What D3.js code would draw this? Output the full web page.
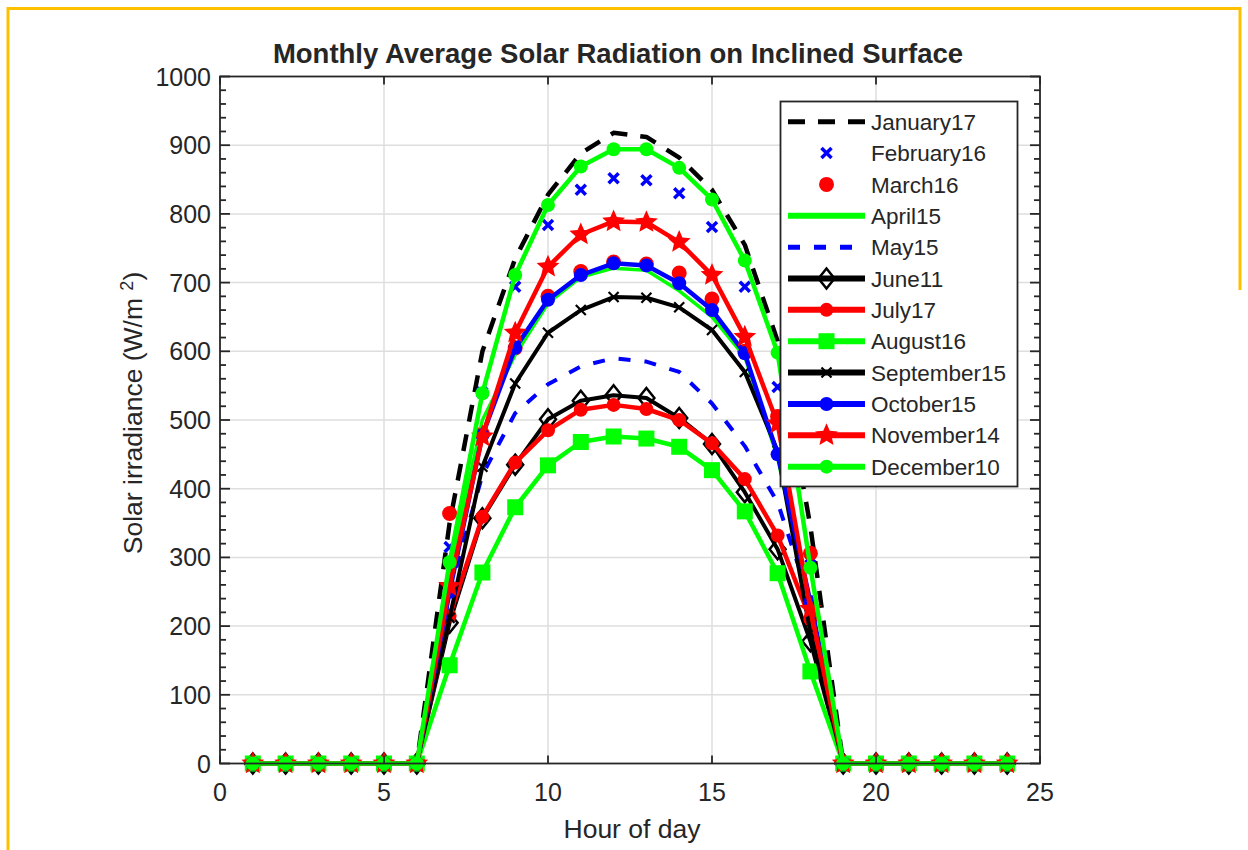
<!DOCTYPE html>
<html lang="en">
<head>
<meta charset="UTF-8">
<title>Monthly Average Solar Radiation on Inclined Surface</title>
<style>
    body, html {
        margin: 0;
        padding: 0;
        width: 100%;
        height: 100%;
        overflow: hidden;
        background: #fff;
        font-family: 'Liberation Sans', Arial, sans-serif;
    }
    text { fill: #262626; }
</style>
</head>
<body>
<div id="chart"></div>
<script src="https://cdn.jsdelivr.net/npm/d3@7/dist/d3.min.js"></script>
<script>
    // hours and monthly series (W/m^2)
    const hours = [1,2,3,4,5,6,7,8,9,10,11,12,13,14,15,16,17,18,19,20,21,22,23,24];
    const january17   = [0,0,0,0,0,0,350,600,735,828,888,918,912,882,835,755,615,345,0,0,0,0,0,0];
    const february16  = [0,0,0,0,0,0,315,540,694,784,835,852,849,830,781,694,548,300,0,0,0,0,0,0];
    const march16     = [0,0,0,0,0,0,364,480,605,680,716,730,727,714,676,600,505,306,0,0,0,0,0,0];
    const april15     = [0,0,0,0,0,0,282,500,595,670,708,721,718,688,650,592,445,225,0,0,0,0,0,0];
    const may15       = [0,0,0,0,0,0,250,420,510,552,578,590,585,570,524,462,380,235,0,0,0,0,0,0];
    const june11      = [0,0,0,0,0,0,205,357,435,501,528,536,532,503,465,395,312,178,0,0,0,0,0,0];
    const july17      = [0,0,0,0,0,0,215,359,438,485,515,522,516,500,466,414,332,210,0,0,0,0,0,0];
    const august16    = [0,0,0,0,0,0,143,278,373,434,468,476,473,461,427,367,277,134,0,0,0,0,0,0];
    const september15 = [0,0,0,0,0,0,212,432,553,627,660,679,678,664,631,570,455,190,0,0,0,0,0,0];
    const october15   = [0,0,0,0,0,0,250,478,605,675,711,728,725,699,660,597,450,235,0,0,0,0,0,0];
    const november14  = [0,0,0,0,0,0,258,476,627,723,770,789,788,759,711,621,495,225,0,0,0,0,0,0];
    const december10  = [0,0,0,0,0,0,293,539,711,813,869,894,894,867,821,732,598,285,0,0,0,0,0,0];

    const xTicks = [0,5,10,15,20,25];
    const yTicks = [0,100,200,300,400,500,600,700,800,900,1000];

    // line style per month
    const series = [
        {name: "January17",   values: january17,   color: "#000", width: 4.5, dash: "17,13", line: true,  marker: null},
        {name: "February16",  values: february16,  color: "#00f", width: 0,   dash: null,    line: false, marker: "x"},
        {name: "March16",     values: march16,     color: "#f00", width: 0,   dash: null,    line: false, marker: "dot"},
        {name: "April15",     values: april15,     color: "#0f0", width: 3.5, dash: null,    line: true,  marker: null},
        {name: "May15",       values: may15,       color: "#00f", width: 4,   dash: "12,14", line: true,  marker: null},
        {name: "June11",      values: june11,      color: "#000", width: 4,   dash: null,    line: true,  marker: "diamond"},
        {name: "July17",      values: july17,      color: "#f00", width: 4.5, dash: null,    line: true,  marker: "circle"},
        {name: "August16",    values: august16,    color: "#0f0", width: 4.5, dash: null,    line: true,  marker: "square"},
        {name: "September15", values: september15, color: "#000", width: 4,   dash: null,    line: true,  marker: "smallx"},
        {name: "October15",   values: october15,   color: "#00f", width: 4.5, dash: null,    line: true,  marker: "circle"},
        {name: "November14",  values: november14,  color: "#f00", width: 4.5, dash: null,    line: true,  marker: "star"},
        {name: "December10",  values: december10,  color: "#0f0", width: 4.5, dash: null,    line: true,  marker: "circle"}
    ];

    const W = 1248, H = 850;
    const svg = d3.select("#chart").append("svg")
        .attr("width", W)
        .attr("height", H);

    // yellow frame of the original page
    const frame = svg.append("g").attr("stroke", "#ffc000").attr("stroke-width", 3).attr("fill", "none");
    frame.append("path").attr("d", "M8,850V8.5H1240V290");

    const x = d3.scaleLinear().domain([0, 25]).range([220, 1040]);
    const y = d3.scaleLinear().domain([0, 1000]).range([763.5, 76.5]);

    // grid
    const grid = svg.append("g").attr("stroke", "#dedede").attr("stroke-width", 1.5);
    grid.selectAll(".gx").data(xTicks.slice(1, -1)).enter().append("line")
        .attr("x1", d => x(d)).attr("x2", d => x(d))
        .attr("y1", y(0)).attr("y2", y(1000));
    grid.selectAll(".gy").data(yTicks.slice(1, -1)).enter().append("line")
        .attr("x1", x(0)).attr("x2", x(25))
        .attr("y1", d => y(d)).attr("y2", d => y(d));

    // curves
    const lineGen = d3.line().x((d, i) => x(hours[i])).y(d => y(d));
    const plot = svg.append("g");

    function star(r1, r2, n) {
        const pts = [];
        for (let k = 0; k < n * 2; k++) {
            const r = k % 2 ? r2 : r1;
            const a = -Math.PI / 2 + k * Math.PI / n;
            pts.push([r * Math.cos(a), r * Math.sin(a)]);
        }
        return "M" + pts.map(p => p.join(",")).join("L") + "Z";
    }

    function drawMarker(g, type, color, cx, cy) {
        const t = `translate(${cx},${cy})`;
        if (type === "x") {
            g.append("path").attr("transform", t)
                .attr("d", "M-5,-5L5,5M-5,5L5,-5")
                .attr("stroke", color).attr("stroke-width", 3.5).attr("fill", "none");
        } else if (type === "smallx") {
            g.append("path").attr("transform", t)
                .attr("d", "M-5,-5L5,5M-5,5L5,-5")
                .attr("stroke", color).attr("stroke-width", 2.2).attr("fill", "none");
        } else if (type === "dot") {
            g.append("circle").attr("transform", t).attr("r", 7.5).attr("fill", color);
        } else if (type === "circle") {
            g.append("circle").attr("transform", t).attr("r", 7).attr("fill", color);
        } else if (type === "diamond") {
            g.append("path").attr("transform", t)
                .attr("d", "M0,-10L8,0L0,10L-8,0Z")
                .attr("stroke", color).attr("stroke-width", 2.5).attr("fill", "none");
        } else if (type === "square") {
            g.append("rect").attr("transform", t)
                .attr("x", -8).attr("y", -8).attr("width", 16).attr("height", 16)
                .attr("fill", color);
        } else if (type === "star") {
            g.append("path").attr("transform", t)
                .attr("d", star(12, 5.5, 5)).attr("fill", color);
        }
    }

    series.forEach(s => {
        const g = plot.append("g");
        if (s.line) {
            g.append("path")
                .datum(s.values)
                .attr("d", lineGen)
                .attr("fill", "none")
                .attr("stroke", s.color)
                .attr("stroke-width", s.width)
                .attr("stroke-dasharray", s.dash)
                .attr("stroke-linejoin", "round");
        }
        if (s.marker) {
            s.values.forEach((v, i) => drawMarker(g, s.marker, s.color, x(hours[i]), y(v)));
        }
    });

    // axes box with inward ticks
    const ax = svg.append("g").attr("stroke", "#262626").attr("stroke-width", 1.8).attr("fill", "none");
    ax.append("rect")
        .attr("x", x(0)).attr("y", y(1000))
        .attr("width", x(25) - x(0)).attr("height", y(0) - y(1000));

    const minor = d3.range(0, 1001, 20).filter(d => d % 100 !== 0);
    yTicks.forEach(d => {
        ax.append("line").attr("x1", x(0)).attr("x2", x(0) + 10).attr("y1", y(d)).attr("y2", y(d));
        ax.append("line").attr("x1", x(25)).attr("x2", x(25) - 10).attr("y1", y(d)).attr("y2", y(d));
    });
    minor.forEach(d => {
        ax.append("line").attr("x1", x(0)).attr("x2", x(0) + 6).attr("y1", y(d)).attr("y2", y(d));
        ax.append("line").attr("x1", x(25)).attr("x2", x(25) - 6).attr("y1", y(d)).attr("y2", y(d));
    });
    xTicks.forEach(d => {
        ax.append("line").attr("x1", x(d)).attr("x2", x(d)).attr("y1", y(0)).attr("y2", y(0) - 8);
        ax.append("line").attr("x1", x(d)).attr("x2", x(d)).attr("y1", y(1000)).attr("y2", y(1000) + 8);
    });

    // tick labels
    svg.append("g").selectAll("text").data(yTicks).enter().append("text")
        .attr("x", x(0) - 9).attr("y", d => y(d)).attr("dy", "0.36em")
        .attr("text-anchor", "end").style("font-size", "25px")
        .text(d => d);
    svg.append("g").selectAll("text").data(xTicks).enter().append("text")
        .attr("x", d => x(d)).attr("y", 801)
        .attr("text-anchor", "middle").style("font-size", "25px")
        .text(d => d);

    // title and axis labels
    svg.append("text")
        .attr("x", 618).attr("y", 63)
        .attr("text-anchor", "middle")
        .style("font-size", "27.5px").style("font-weight", "bold")
        .text("Monthly Average Solar Radiation on Inclined Surface");

    svg.append("text")
        .attr("x", 632).attr("y", 838)
        .attr("text-anchor", "middle").style("font-size", "26.5px")
        .text("Hour of day");

    const yl = svg.append("text")
        .attr("transform", "translate(142,413) rotate(-90)")
        .attr("text-anchor", "middle").style("font-size", "26.5px");
    yl.append("tspan").text("Solar irradiance (W/m ");
    yl.append("tspan").attr("dy", -9).style("font-size", "18px").text("2");
    yl.append("tspan").attr("dy", 9).text(")");

    // legend
    const lg = svg.append("g");
    lg.append("rect")
        .attr("x", 780.5).attr("y", 101.5).attr("width", 237).attr("height", 385)
        .attr("fill", "#fff").attr("stroke", "#262626").attr("stroke-width", 1.8);
    series.forEach((s, i) => {
        const cy = 121.7 + i * 31.36;
        if (s.line) {
            lg.append("line")
                .attr("x1", 788).attr("x2", 865).attr("y1", cy).attr("y2", cy)
                .attr("stroke", s.color)
                .attr("stroke-width", s.dash ? 5 : 6)
                .attr("stroke-dasharray", s.dash);
        }
        if (s.marker) drawMarker(lg, s.marker, s.color, 826.5, cy);
        lg.append("text")
            .attr("x", 871).attr("y", cy).attr("dy", "0.36em")
            .style("font-size", "22.5px")
            .text(s.name);
    });
</script>
</body>
</html>
